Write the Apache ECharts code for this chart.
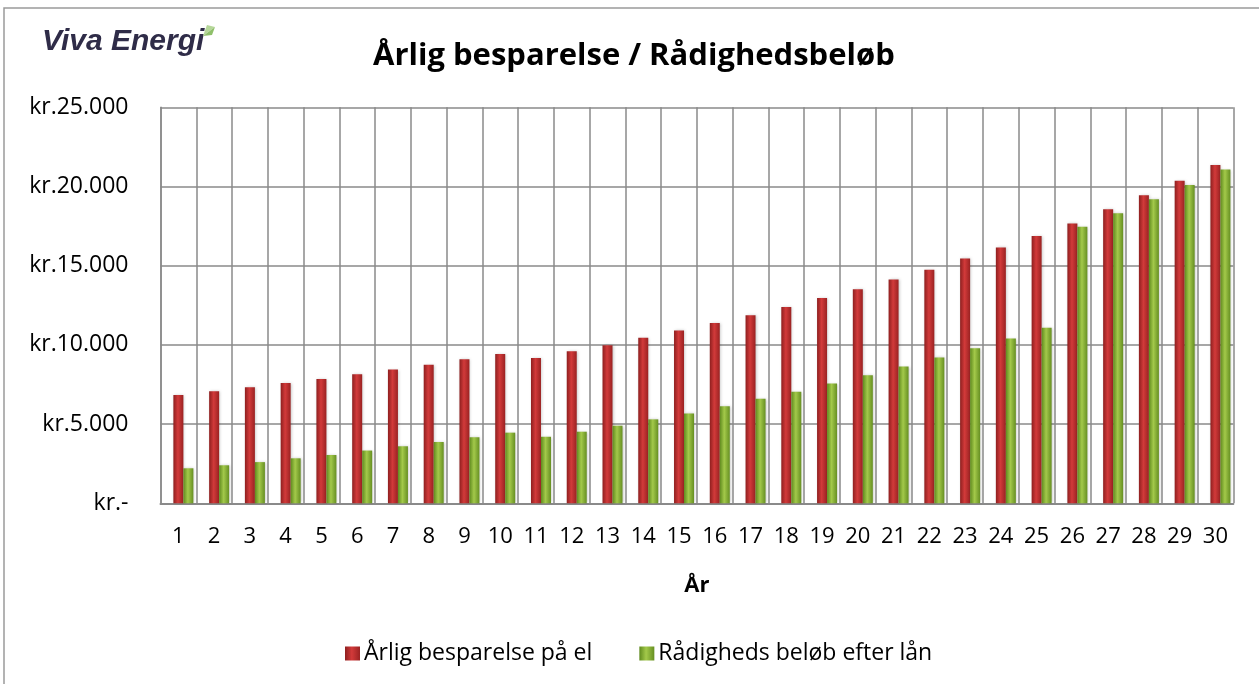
<!DOCTYPE html>
<html>
<head>
<meta charset="utf-8">
<script src="https://cdn.jsdelivr.net/npm/echarts@6/dist/echarts.min.js"></script>
<style>
  html, body { margin: 0; padding: 0; background: #fff; }
  #chart { width: 1259px; height: 684px; }
</style>
</head>
<body>
<div id="chart"></div>
<script>
(function(){
  // År 1-30, besparelse og rådighedsbeløb (kr.)
  const years = ["1","2","3","4","5","6","7","8","9","10","11","12","13","14","15","16","17","18","19","20","21","22","23","24","25","26","27","28","29","30"];
  const besparelse = [6830, 7070, 7320, 7590, 7840, 8140, 8440, 8750, 9090, 9420, 9180, 9600, 9980, 10450, 10910, 11390, 11870, 12400, 12960, 13520, 14130, 14750, 15460, 16150, 16880, 17670, 18560, 19450, 20370, 21350];
  const raadighed = [2210, 2400, 2600, 2840, 3050, 3330, 3600, 3870, 4170, 4460, 4200, 4520, 4900, 5300, 5670, 6130, 6600, 7040, 7560, 8080, 8630, 9210, 9790, 10400, 11080, 17460, 18310, 19190, 20100, 21070];
  const yTicks = { min: 0, max: 25000, interval: 5000 };

  const font = "'Open Sans', 'Noto Sans', sans-serif";
  const gridColor = "#8a8a8a";

  const redFill = new echarts.graphic.LinearGradient(0, 0, 1, 0, [
    { offset: 0, color: "#8e1f1f" },
    { offset: 0.45, color: "#d23a3a" },
    { offset: 1, color: "#9a2222" }
  ]);
  const greenFill = new echarts.graphic.LinearGradient(0, 0, 1, 0, [
    { offset: 0, color: "#5f8a1e" },
    { offset: 0.45, color: "#a3c94a" },
    { offset: 1, color: "#668f22" }
  ]);

  function kr(v) {
    if (v === 0) return "kr.-";
    return "kr." + String(v).replace(/\B(?=(\d{3})+(?!\d))/g, ".");
  }

  const chart = echarts.init(document.getElementById("chart"));

  const option = {
    animation: false,
    textStyle: { fontFamily: font },
    title: {
      text: "Årlig besparelse / Rådighedsbeløb",
      left: 368, top: 36,
      textStyle: { fontSize: 31, fontWeight: "bold", color: "#000", fontFamily: font }
    },
    graphic: [
      { type: "rect", shape: { x: 4, y: 8, width: 1300, height: 700 }, style: { fill: "none", stroke: "#9a9a9a", lineWidth: 1.5 }, silent: true },
      { type: "text", left: 42, top: 27, style: { text: "Viva Energi", font: "italic 600 30px 'Liberation Sans', sans-serif", fill: "#2f2c48" } },
      { type: "polygon", shape: { points: [[203, 36], [207, 25], [215, 27]] }, style: { fill: "#b6d79a" } },
      { type: "polygon", shape: { points: [[203, 36], [212, 35], [215, 27]] }, style: { fill: "#8fc06a" } }
    ],
    legend: {
      data: ["Årlig besparelse på el", "Rådigheds beløb efter lån"],
      left: 340, top: 637,
      itemWidth: 15, itemHeight: 14, itemGap: 47,
      icon: "rect",
      textStyle: { fontSize: 23, color: "#000", fontFamily: font, padding: [0, 0, 0, -1] }
    },
    grid: { left: 160.5, right: 25.7, top: 107.3, bottom: 180.7, containLabel: false },
    xAxis: {
      type: "category",
      data: years,
      name: "År",
      nameLocation: "middle",
      nameGap: 71,
      nameTextStyle: { fontSize: 22, fontWeight: "bold", color: "#000", fontFamily: font },
      axisTick: { show: false },
      axisLine: { lineStyle: { color: gridColor, width: 2 } },
      axisLabel: { fontSize: 22, color: "#000", margin: 22, fontFamily: font },
      splitLine: { show: true, lineStyle: { color: gridColor, width: 1.5 } }
    },
    yAxis: {
      type: "value",
      min: yTicks.min, max: yTicks.max, interval: yTicks.interval,
      axisLine: { show: true, lineStyle: { color: gridColor, width: 1.5 } },
      axisTick: { show: false },
      axisLabel: { fontSize: 23, color: "#000", margin: 32, formatter: kr, fontFamily: font },
      splitLine: { lineStyle: { color: gridColor, width: 1.5 } }
    },
    series: [
      // tom serie: skubber parret lidt til højre som i Excel-figuren
      { name: "_spacer", type: "bar", data: [], barWidth: 10, barGap: "0%" },
      {
        name: "Årlig besparelse på el", type: "bar", data: besparelse,
        barWidth: 10, barGap: "0%",
        itemStyle: { color: redFill, shadowColor: "rgba(0,0,0,0.25)", shadowBlur: 3, shadowOffsetX: 1 }
      },
      {
        name: "Rådigheds beløb efter lån", type: "bar", data: raadighed,
        barWidth: 10, barGap: "0%",
        itemStyle: { color: greenFill, shadowColor: "rgba(0,0,0,0.25)", shadowBlur: 3, shadowOffsetX: 1 }
      }
    ]
  };

  chart.setOption(option);
  window.addEventListener("resize", () => chart.resize());
})();
</script>
</body>
</html>
